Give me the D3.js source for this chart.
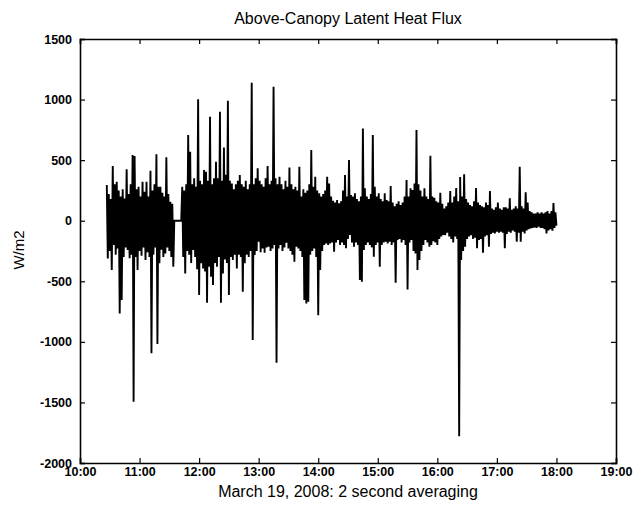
<!DOCTYPE html>
<html>
<head>
<meta charset="utf-8">
<script src="https://cdn.jsdelivr.net/npm/d3@7"></script>
<style>
  body { margin: 0; background: #fff; }
  svg { display: block; }
</style>
</head>
<body>
<svg id="chart" width="634" height="511"></svg>
<script>
// 2 minute bins, minutes after 10:00, starting 10:27 (gap ~11:34-11:42 is flat zero)
const binStart = 27;
const binStep = 2;

// bin maximum (W/m2)
const binHigh = [
  295,220,180,451,300,322,250,200,260,184,
  424,220,300,542,534,260,280,200,322,240,
  322,200,413,250,300,548,280,280,230,200,
  523,220,157,140,0,0,0,0,281,250,
  300,707,570,300,350,280,1002,330,300,418,
  405,330,859,300,350,487,350,900,330,605,
  380,991,330,308,260,300,330,377,300,280,
  330,260,300,1139,300,350,432,330,300,280,
  350,451,300,330,1106,350,300,363,300,260,
  330,280,440,300,260,280,250,446,200,260,
  230,250,300,583,280,363,250,226,200,220,
  250,363,308,200,165,150,170,143,160,250,
  377,200,501,212,200,226,180,160,200,762,
  267,200,180,220,707,281,200,226,180,160,
  226,171,160,286,150,120,140,160,130,150,
  200,336,200,267,253,308,748,300,250,200,
  267,200,180,537,200,190,160,150,230,140,
  100,120,150,245,150,200,270,160,360,200,
  383,180,150,130,120,160,270,150,130,120,
  110,150,130,245,100,90,110,150,100,90,
  110,110,100,185,90,100,120,100,446,120,
  100,235,150,80,70,60,60,70,60,70,
  60,70,80,60,80,145,70
];

// bin minimum (W/m2)
const binLow = [
  -311,-250,-407,-200,-280,-230,-765,-655,-300,-220,
  -242,-310,-280,-1494,-300,-407,-250,-290,-220,-325,
  -260,-300,-1095,-280,-220,-1018,-350,-240,-300,-270,
  -220,-250,-300,-380,0,0,0,0,-300,-435,
  -250,-280,-350,-242,-300,-400,-614,-350,-394,-420,
  -677,-380,-462,-531,-350,-380,-300,-677,-435,-320,
  -350,-614,-300,-325,-280,-394,-280,-300,-586,-352,
  -280,-300,-250,-985,-283,-250,-173,-260,-230,-264,
  -220,-215,-250,-230,-200,-1172,-230,-201,-250,-220,
  -182,-230,-250,-280,-338,-215,-230,-250,-300,-655,
  -683,-669,-280,-250,-230,-300,-780,-407,-250,-200,
  -187,-200,-187,-180,-256,-180,-160,-201,-180,-200,
  -228,-150,-118,-180,-215,-180,-200,-490,-504,-242,
  -200,-180,-201,-220,-297,-200,-180,-380,-200,-180,
  -173,-187,-173,-200,-180,-512,-160,-150,-180,-160,
  -200,-567,-180,-160,-250,-270,-407,-325,-250,-200,
  -160,-180,-215,-200,-170,-180,-200,-150,-130,-118,
  -120,-100,-130,-150,-180,-130,-150,-1780,-325,-250,
  -215,-150,-130,-120,-150,-140,-228,-160,-150,-264,
  -130,-120,-215,-110,-100,-105,-90,-100,-90,-100,
  -228,-110,-90,-100,-80,-90,-173,-100,-173,-90,
  -105,-80,-70,-63,-60,-55,-60,-50,-60,-60,
  -70,-105,-80,-70,-83,-60,-40
];

const yTicks = [-2000, -1500, -1000, -500, 0, 500, 1000, 1500];
const xTickHours = [10, 11, 12, 13, 14, 15, 16, 17, 18, 19];

const svg = d3.select("#chart");
const plotL = 80, plotR = 616, plotT = 39, plotB = 463;

const day = new Date(2008, 2, 19);
const timeAt = m => d3.timeMinute.offset(d3.timeHour.offset(day, 10), m);

const x = d3.scaleTime()
  .domain([timeAt(0), timeAt(540)])
  .range([plotL, plotR]);
const y = d3.scaleLinear()
  .domain([-2000, 1500])
  .range([plotB, plotT]);

// zigzag through max then min of each bin
const pts = [];
binHigh.forEach((h, i) => {
  const m = binStart + i * binStep;
  pts.push([timeAt(m), h]);
  pts.push([timeAt(m + 1), binLow[i]]);
});

const line = d3.line()
  .x(d => x(d[0]))
  .y(d => y(d[1]));

svg.append("path")
  .datum(pts)
  .attr("d", line)
  .attr("fill", "none")
  .attr("stroke", "#000")
  .attr("stroke-width", 1.9)
  .attr("stroke-linejoin", "miter");

// axes, ticks pointing inward like matlab
const tickFont = "Liberation Sans, Arial, sans-serif";
const xTickVals = xTickHours.map(h => timeAt((h - 10) * 60));

const xBottom = d3.axisBottom(x).tickValues(xTickVals).tickSize(-5).tickPadding(4)
  .tickFormat(d3.timeFormat("%H:%M"));
const xTop = d3.axisTop(x).tickValues(xTickVals).tickSize(-5).tickFormat("");
const yLeft = d3.axisLeft(y).tickValues(yTicks).tickSize(-5).tickPadding(8)
  .tickFormat(d => String(d));
const yRight = d3.axisRight(y).tickValues(yTicks).tickSize(-5).tickFormat("");

function styleAxis(g) {
  g.select(".domain").attr("stroke", "#000").attr("stroke-width", 1.6);
  g.selectAll(".tick line").attr("stroke", "#000").attr("stroke-width", 1.2);
  g.selectAll("text")
    .attr("fill", "#000")
    .style("font-family", tickFont)
    .style("font-weight", "bold")
    .style("font-size", "12.5px");
}

svg.append("g").attr("transform", `translate(0,${plotB})`).call(xBottom).call(styleAxis);
svg.append("g").attr("transform", `translate(0,${plotT})`).call(xTop).call(styleAxis);
svg.append("g").attr("transform", `translate(${plotL},0)`).call(yLeft).call(styleAxis);
svg.append("g").attr("transform", `translate(${plotR},0)`).call(yRight).call(styleAxis);

// titles
svg.append("text")
  .attr("x", (plotL + plotR) / 2)
  .attr("y", 24)
  .attr("text-anchor", "middle")
  .style("font-family", tickFont)
  .style("font-size", "16px")
  .text("Above-Canopy Latent Heat Flux");

svg.append("text")
  .attr("x", (plotL + plotR) / 2)
  .attr("y", 497)
  .attr("text-anchor", "middle")
  .style("font-family", tickFont)
  .style("font-size", "16px")
  .text("March 19, 2008: 2 second averaging");

svg.append("text")
  .attr("transform", "translate(24,250) rotate(-90)")
  .attr("text-anchor", "middle")
  .style("font-family", tickFont)
  .style("font-size", "15px")
  .text("W/m2");
</script>
</body>
</html>
